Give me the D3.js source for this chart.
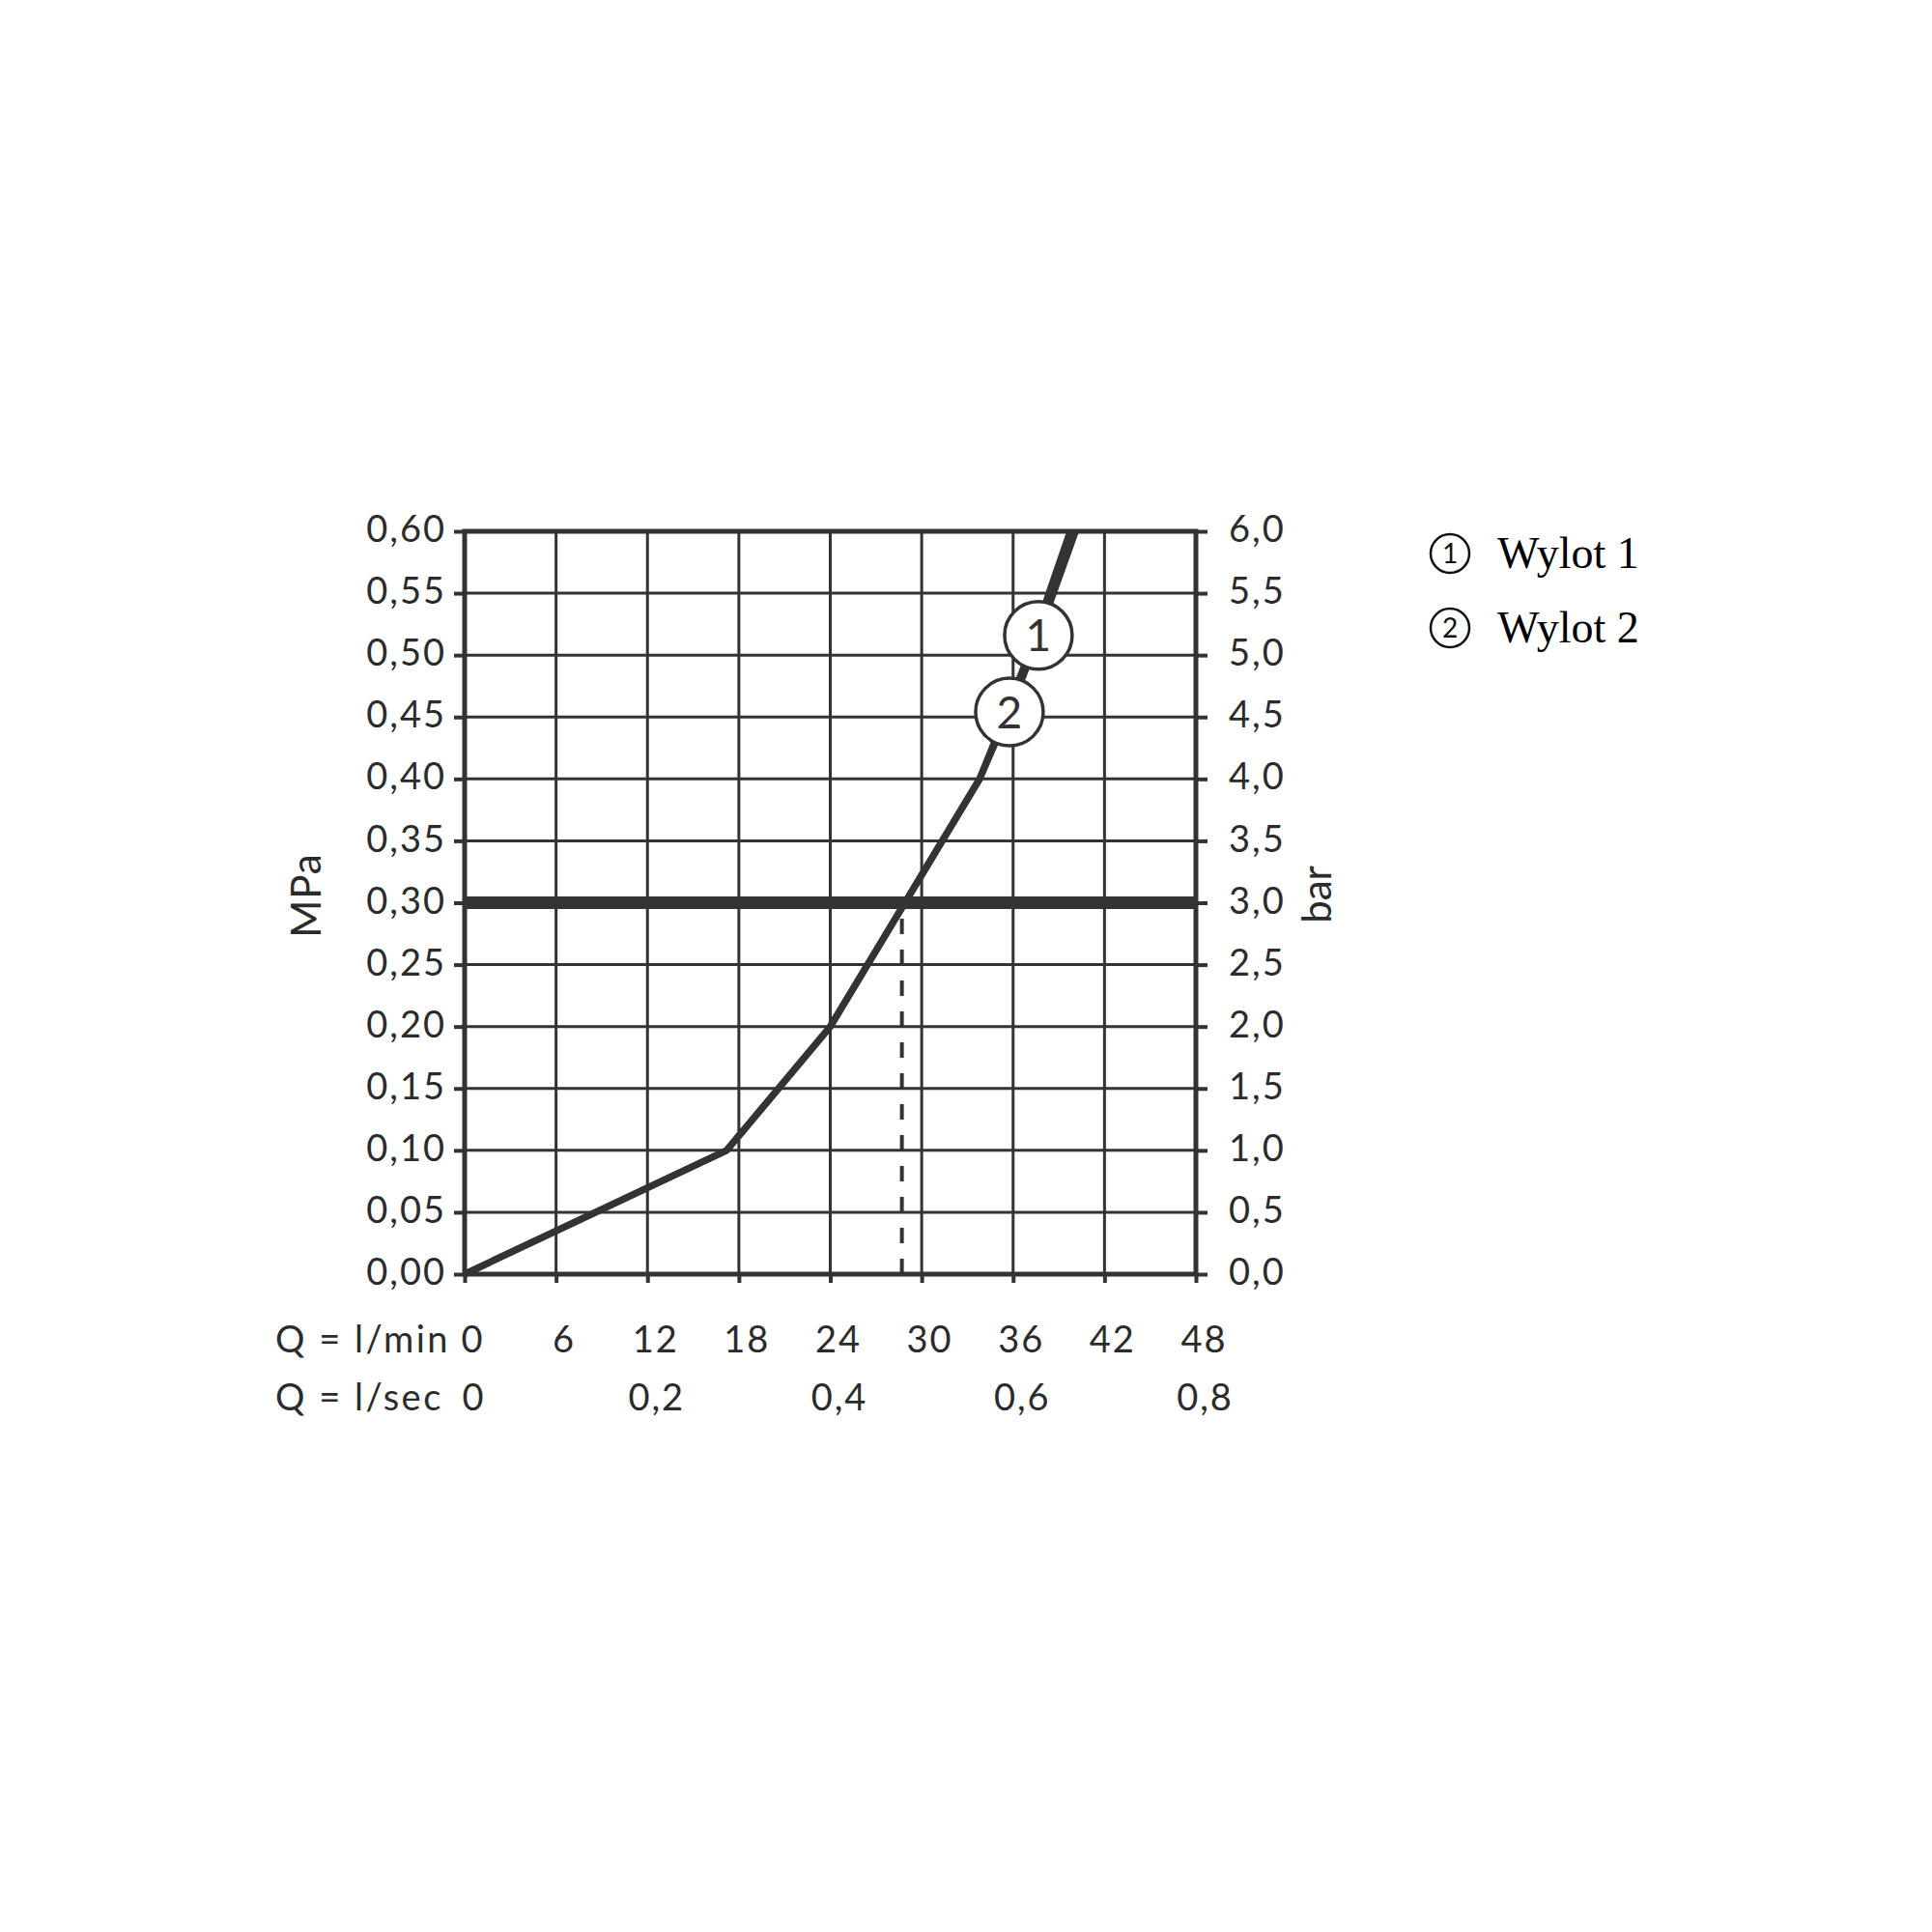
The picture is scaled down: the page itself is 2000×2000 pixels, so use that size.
<!DOCTYPE html>
<html>
<head>
<meta charset="utf-8">
<script src="https://cdn.jsdelivr.net/npm/d3@7"></script>
<style>
  body { margin: 0; background: #fff; }
  svg { display: block; }
</style>
</head>
<body>
<svg id="canvas"></svg>
<script>
// flow ticks (l/min and l/sec) and pressure ticks (MPa and bar)
let flowLmin = [0, 6, 12, 18, 24, 30, 36, 42, 48];
let flowLsec = [0, 0.2, 0.4, 0.6, 0.8];
let pressureMPa = [0, 0.05, 0.10, 0.15, 0.20, 0.25, 0.30, 0.35, 0.40, 0.45, 0.50, 0.55, 0.60];
let pressureBar = [0, 0.5, 1, 1.5, 2, 2.5, 3, 3.5, 4, 4.5, 5, 5.5, 6];

// curves (Q in l/min, p in MPa)
let series = ['Wylot 1', 'Wylot 2'];
let wylot1Q = [0, 17.2, 24, 33.8, 35.75, 37.2, 38.65, 40.1];
let wylot1P = [0, 0.10, 0.20, 0.40, 0.455, 0.50, 0.55, 0.60];
let wylot2Q = [0, 17.2, 24, 33.8, 35.6, 37.0, 38.35, 39.75];
let wylot2P = [0, 0.10, 0.20, 0.40, 0.455, 0.50, 0.55, 0.60];

// circled numbers on the curves
let markerText = ['1', '2'];
let markerQ = [37.66, 35.76];
let markerP = [0.516, 0.454];

// reference pressure and the flow at that pressure
let refPressure = 0.30;
let refFlow = 28.7;

let width = 2000;
let height = 2000;
let ink = '#333';
let sans = 'Lato, "Open Sans", sans-serif';

let canvas = d3.select('#canvas')
  .attr('width', width)
  .attr('height', height);

let xscale = d3.scaleLinear().domain([0, 48]).range([481, 1238]);
let xsecScale = d3.scaleLinear().domain([0, 0.8]).range([481, 1238]);
let yscale = d3.scaleLinear().domain([0, 0.6]).range([1319, 550]);
let ybarScale = d3.scaleLinear().domain([0, 6]).range([1319, 550]);

let comma = (f) => (d) => f(d).replace('.', ',');

function drawGrid() {
  let grid = canvas.append('g').attr('stroke', ink).attr('stroke-width', 3);
  grid.selectAll('.vline')
    .data(flowLmin)
    .enter()
    .append('line')
    .attr('x1', (d) => xscale(d))
    .attr('x2', (d) => xscale(d))
    .attr('y1', yscale(0))
    .attr('y2', yscale(0.6));
  grid.selectAll('.hline')
    .data(pressureMPa)
    .enter()
    .append('line')
    .attr('x1', xscale(0))
    .attr('x2', xscale(48))
    .attr('y1', (d) => yscale(d))
    .attr('y2', (d) => yscale(d));

  canvas.append('rect')
    .attr('x', xscale(0))
    .attr('y', yscale(0.6))
    .attr('width', xscale(48) - xscale(0))
    .attr('height', yscale(0) - yscale(0.6))
    .attr('fill', 'none')
    .attr('stroke', ink)
    .attr('stroke-width', 5);

  // thick reference line
  canvas.append('line')
    .attr('x1', xscale(0))
    .attr('x2', xscale(48))
    .attr('y1', yscale(refPressure))
    .attr('y2', yscale(refPressure))
    .attr('stroke', ink)
    .attr('stroke-width', 13);

  // dashed drop line
  canvas.append('line')
    .attr('x1', xscale(refFlow))
    .attr('x2', xscale(refFlow))
    .attr('y1', yscale(0))
    .attr('y2', yscale(refPressure))
    .attr('stroke', ink)
    .attr('stroke-width', 4)
    .attr('stroke-dasharray', '16,16');
}

function styleAxis(g) {
  g.select('.domain').remove();
  g.selectAll('.tick line').attr('stroke', ink).attr('stroke-width', 4);
  g.selectAll('text')
    .attr('fill', '#2b2b2b')
    .style('font-family', sans)
    .style('font-size', '38px')
    .style('letter-spacing', '2px');
}

function drawAxis() {
  let left = canvas.append('g')
    .attr('transform', 'translate(' + xscale(0) + ',0)')
    .call(d3.axisLeft(yscale).tickValues(pressureMPa).tickFormat(comma(d3.format('.2f'))).tickSize(11).tickPadding(8));
  styleAxis(left);
  left.selectAll('text').attr('dy', '0.28em');

  let right = canvas.append('g')
    .attr('transform', 'translate(' + xscale(48) + ',0)')
    .call(d3.axisRight(ybarScale).tickValues(pressureBar).tickFormat(comma(d3.format('.1f'))).tickSize(12).tickPadding(22));
  styleAxis(right);
  right.selectAll('text').attr('dy', '0.28em');

  let bottom = canvas.append('g')
    .attr('transform', 'translate(0,' + yscale(0) + ')')
    .call(d3.axisBottom(xscale).tickValues(flowLmin).tickFormat(d3.format('d')).tickSize(9).tickPadding(45));
  styleAxis(bottom);
  bottom.selectAll('text').attr('dx', 8);

  let bottomSec = canvas.append('g')
    .attr('transform', 'translate(0,' + yscale(0) + ')')
    .call(d3.axisBottom(xsecScale).tickValues(flowLsec).tickFormat((d) => d === 0 ? '0' : comma(d3.format('.1f'))(d)).tickSize(0).tickPadding(114));
  styleAxis(bottomSec);
  bottomSec.selectAll('text').attr('dx', 9);

  let rowLabels = ['Q = l/min', 'Q = l/sec'];
  canvas.selectAll('.rowlabel')
    .data(rowLabels)
    .enter()
    .append('text')
    .attr('x', 285)
    .attr('y', (d, i) => 1400 + i * 60)
    .attr('fill', '#2b2b2b')
    .style('font-family', sans).style('font-size', '38px')
    .style('letter-spacing', '2.5px')
    .text((d) => d);

  canvas.append('text')
    .attr('transform', 'translate(332,927) rotate(-90)')
    .attr('text-anchor', 'middle')
    .attr('fill', '#2b2b2b')
    .style('font-family', sans).style('font-size', '42px')
    .style('letter-spacing', '1px')
    .text('MPa');
  canvas.append('text')
    .attr('transform', 'translate(1378,926) rotate(-90)')
    .attr('text-anchor', 'middle')
    .attr('fill', '#2b2b2b')
    .style('font-family', sans).style('font-size', '42px')
    .text('bar');
}

function drawCurves() {
  let curves = [
    wylot1Q.map((q, i) => [q, wylot1P[i]]),
    wylot2Q.map((q, i) => [q, wylot2P[i]])
  ];
  let line = d3.line()
    .x((d) => xscale(d[0]))
    .y((d) => yscale(d[1]));
  canvas.selectAll('.curve')
    .data(curves)
    .enter()
    .append('path')
    .attr('class', 'curve')
    .attr('d', line)
    .attr('fill', 'none')
    .attr('stroke', ink)
    .attr('stroke-width', 7)
    .attr('stroke-linejoin', 'round');

  let marks = canvas.selectAll('.marker')
    .data(markerText)
    .enter()
    .append('g')
    .attr('transform', (d, i) => 'translate(' + xscale(markerQ[i]) + ',' + yscale(markerP[i]) + ')');
  marks.append('circle')
    .attr('r', 35)
    .attr('fill', '#fff')
    .attr('stroke', ink)
    .attr('stroke-width', 3.5);
  marks.append('text')
    .attr('text-anchor', 'middle')
    .attr('dy', '0.36em')
    .attr('fill', ink)
    .style('font-family', sans)
    .style('font-size', '46px')
    .text((d) => d);
}

function drawLegend() {
  let items = canvas.selectAll('.legend')
    .data(series)
    .enter()
    .append('g')
    .attr('transform', (d, i) => 'translate(1501,' + (573 + i * 77) + ')');
  items.append('circle')
    .attr('r', 20)
    .attr('fill', 'none')
    .attr('stroke', '#111')
    .attr('stroke-width', 2.5);
  items.append('text')
    .attr('text-anchor', 'middle')
    .attr('dy', '0.36em')
    .attr('fill', '#111')
    .style('font-family', sans)
    .style('font-size', '28px')
    .text((d, i) => markerText[i]);
  items.append('text')
    .attr('x', 49)
    .attr('y', 15)
    .attr('fill', '#000')
    .style('font-family', '"Liberation Serif", "Times New Roman", serif')
    .style('font-size', '46px')
    .text((d) => d);
}

drawGrid();
drawCurves();
drawAxis();
drawLegend();
</script>
</body>
</html>
